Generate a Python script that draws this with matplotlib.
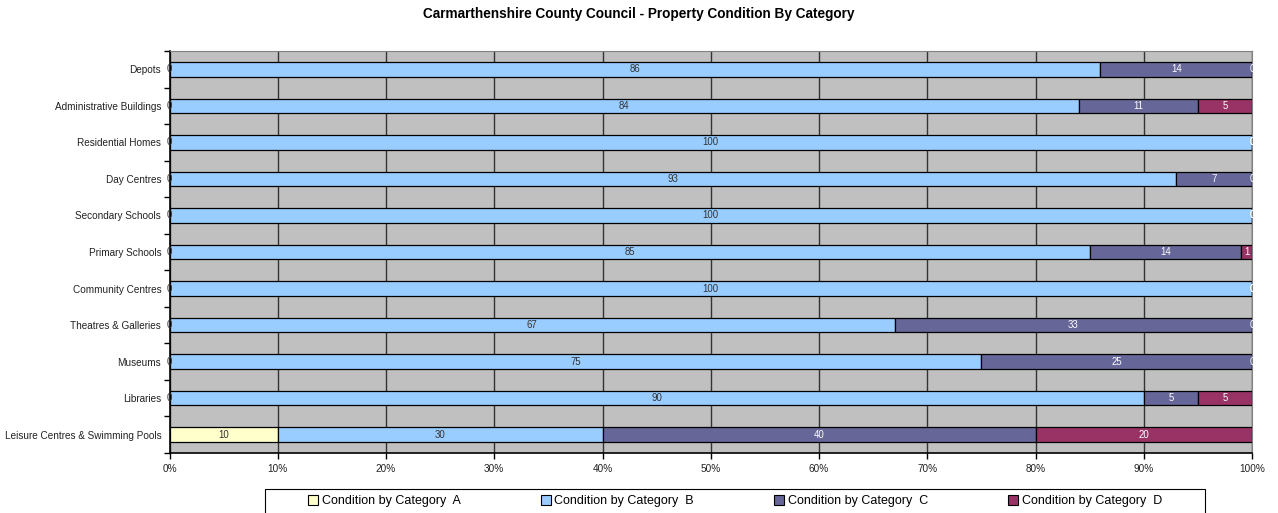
import numpy as np
import matplotlib
matplotlib.use('Agg')
import matplotlib.pyplot as plt
from matplotlib.patches import Rectangle
from matplotlib.ticker import FixedLocator, PercentFormatter

plt.rcParams['font.family'] = ['Liberation Sans', 'DejaVu Sans']

# categories listed top to bottom
categories = ['Depots', 'Administrative Buildings', 'Residential Homes', 'Day Centres',
              'Secondary Schools', 'Primary Schools', 'Community Centres',
              'Theatres & Galleries', 'Museums', 'Libraries',
              'Leisure Centres & Swimming Pools']
cat_a = [0, 0, 0, 0, 0, 0, 0, 0, 0, 0, 10]
cat_b = [86, 84, 100, 93, 100, 85, 100, 67, 75, 90, 30]
cat_c = [14, 11, 0, 7, 0, 14, 0, 33, 25, 5, 40]
cat_d = [0, 5, 0, 0, 0, 1, 0, 0, 0, 5, 20]
series_names = ['Condition by Category  A', 'Condition by Category  B',
                'Condition by Category  C', 'Condition by Category  D']
xtick_vals = [0, 10, 20, 30, 40, 50, 60, 70, 80, 90, 100]

colors = ['#FFFFCC', '#99CCFF', '#666699', '#993366']
label_colors = ['#333333', '#333333', 'white', 'white']

W, H = 1278, 513
fig = plt.figure(figsize=(W / 100, H / 100), dpi=100)
ax = fig.add_axes([169.5 / W, 1 - 453 / H, (1252 - 169.5) / W, (453 - 51) / H])
ax.set_facecolor('#C0C0C0')

series = [cat_a, cat_b, cat_c, cat_d]
y = np.arange(len(categories))
totals = np.sum(series, axis=0)
left = np.zeros(len(categories))
for vals, col, lc, name in zip(series, colors, label_colors, series_names):
    pct = np.array(vals) / totals * 100
    ax.barh(y, pct, left=left, height=0.4, color=col, edgecolor='black',
            linewidth=0.9, label=name, zorder=3)
    for yi, (l, w, v) in enumerate(zip(left, pct, vals)):
        ax.text(l + w / 2, yi, str(v), ha='center', va='center',
                fontsize=6.9, color=lc, zorder=4)
    left += pct

ax.set_xlim(0, 100)
ax.set_ylim(len(categories) - 0.5, -0.5)
ax.xaxis.set_major_locator(FixedLocator(xtick_vals))
ax.xaxis.set_major_formatter(PercentFormatter(decimals=0))
ax.grid(axis='x', color='#333333', linewidth=1.0, zorder=1)
ax.set_yticks(y)
ax.set_yticklabels(categories)
ax.yaxis.set_minor_locator(FixedLocator(np.arange(-0.5, len(categories), 1)))
ax.tick_params(axis='y', which='major', length=0, pad=6, labelsize=7.2, colors='#222222')
ax.tick_params(axis='y', which='minor', length=4, width=1, direction='out', color='black')
ax.tick_params(axis='x', length=4, width=1, direction='out', pad=4, labelsize=7.2,
               colors='black', labelcolor='#222222')
ax.spines['left'].set_color('black')
ax.spines['bottom'].set_color('black')
ax.spines['left'].set_linewidth(1.2)
ax.spines['bottom'].set_linewidth(1.2)
ax.spines['top'].set_color('#808080')
ax.spines['right'].set_color('#808080')

fig.text(0.5, 1 - 14 / H, 'Carmarthenshire County Council - Property Condition By Category',
         ha='center', va='center', fontsize=9.8, fontweight='bold')

# legend box (cut by the bottom of the image)
fig.patches.append(Rectangle((265 / W, -0.05), (1205 - 265) / W, 0.05 + 1 - 489 / H,
                             transform=fig.transFigure, facecolor='white',
                             edgecolor='black', linewidth=0.8, zorder=0))
leg = fig.legend(loc='center', bbox_to_anchor=(735 / W, 1 - 501 / H),
                 ncol=4, fontsize=9, frameon=False,
                 handlelength=0.8, handleheight=0.8, handletextpad=0.3,
                 columnspacing=6.4, borderpad=0, borderaxespad=0)
for h in leg.legend_handles:
    h.set_linewidth(0.8)

fig.savefig('out.png', dpi=100)
